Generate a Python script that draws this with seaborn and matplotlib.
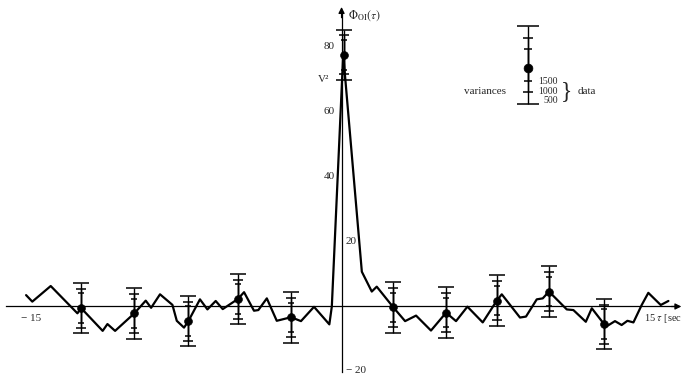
import matplotlib
matplotlib.use("Agg")
import matplotlib.pyplot as plt
import seaborn as sns
import numpy as np

# ---- data ----
tau = [-15.24, -14.94, -14.05, -12.76, -12.58, -11.54, -11.31, -10.94, -10.01,
       -9.46, -9.20, -8.77, -8.17, -7.96, -7.61, -7.40, -6.84, -6.48, -6.08,
       -5.74, -5.01, -4.71, -4.23, -4.02, -3.61, -3.13, -2.44, -1.96, -1.33,
       -0.59, -0.47, 0.08, 0.98, 1.46, 1.70, 2.50, 3.07, 3.60, 4.32, 5.05,
       5.53, 6.08, 6.82, 7.50, 7.74, 8.62, 8.91, 9.43, 9.72, 10.02, 10.88,
       11.20, 11.80, 12.09, 12.68, 12.78, 13.21, 13.53, 13.81, 14.10, 14.50,
       14.82, 15.42, 15.79]
phi = [3.5, 1.5, 6.3, -2.1, -0.5, -7.5, -5.4, -7.5, -2.1,
       1.8, -0.4, 3.75, 0.5, -4.4, -6.5, -4.5, 2.2, -0.9, 1.7,
       -0.8, 2.3, 4.4, -1.3, -1.1, 2.5, -4.4, -3.3, -4.5, -0.1,
       -5.5, 0.0, 77.5, 10.7, 4.6, 6.1, -0.25, -4.5, -2.8, -7.4, -1.9,
       -4.5, -0.05, -4.9, 1.8, 3.75, -3.4, -3.1, 2.2, 2.5, 4.6, -0.9,
       -1.1, -4.7, -0.55, -5.4, -6.2, -4.5, -5.7, -4.4, -4.9, 0.46,
       4.2, 0.46, 1.7]

marker_tau = [-12.58, -10.01, -7.40, -5.01, -2.44, 0.10, 2.50, 5.05, 7.50, 10.02, 12.68]
marker_phi = [-0.5, -2.1, -4.5, 2.3, -3.3, 77.4, -0.25, -1.9, 1.8, 4.6, -5.4]

# error-bar half lengths for 500, 1000, 1500 data
err_data = [7.8, 6.0, 4.5]
# legend (variances) bar
legend_tau = [9.0]
legend_phi = [74.3]
legend_marker_phi = [73.5]
err_legend = [12.0, 8.25, 4.9]
legend_counts = ["1500", "1000", "500"]

y_tick_left = [40, 60, 80]
y_tick_right = [-20, 20]
x_ticks = [-15, 15]

# ---- style ----
sns.set_theme(style="white")
plt.rcParams["font.family"] = ["Liberation Serif", "DejaVu Serif"]
plt.rcParams["mathtext.fontset"] = "stix"

fig = plt.figure(figsize=(6.86, 3.78), dpi=100)
ax = fig.add_axes([0, 0, 1, 1])
ax.set_xlim(-16.50, 16.64)
ax.set_ylim(-22.0, 94.3)
ax.set_facecolor("white")

# axes through the origin
for s in ["top", "right"]:
    ax.spines[s].set_visible(False)
ax.spines["left"].set_position(("data", 0))
ax.spines["bottom"].set_position(("data", 0))
ax.spines["left"].set_bounds(-20.3, 90)
ax.spines["bottom"].set_bounds(-16.2, 16.2)
for s in ["left", "bottom"]:
    ax.spines[s].set_color("black")
    ax.spines[s].set_linewidth(0.9)

ax.annotate("", xy=(16.55, 0), xytext=(15.8, 0),
            arrowprops=dict(arrowstyle="-|>", color="black", lw=0.9, mutation_scale=9))
ax.annotate("", xy=(0, 93.0), xytext=(0, 88),
            arrowprops=dict(arrowstyle="-|>", color="black", lw=0.9, mutation_scale=9))

ax.set_xticks(x_ticks)
ax.set_xticklabels([])
ax.set_yticks(y_tick_left)
ax.set_yticklabels([])
ax.set_yticks(y_tick_right, minor=True)
ax.tick_params(axis="x", which="major", direction="inout", length=6, width=0.9, color="black")
ax.tick_params(axis="y", which="major", direction="out", length=4, width=0.9, color="black")
ax.tick_params(axis="y", which="minor", direction="inout", length=8, width=0.9, color="black")
ax.set_xlabel("")
ax.set_ylabel("")

# ---- curve ----
sns.lineplot(x=tau, y=phi, sort=False, estimator=None, color="black",
             linewidth=1.6, ax=ax, zorder=3)

# ---- error bars ----
cap_data = [5.8, 3.3, 2.5]
for hl, cap in zip(err_data, cap_data):
    ax.errorbar(marker_tau, marker_phi, yerr=hl, fmt="none", ecolor="black",
                elinewidth=1.0, capsize=cap, capthick=1.1, zorder=4)
sns.scatterplot(x=marker_tau, y=marker_phi, s=32, color="black",
                edgecolor="black", ax=ax, zorder=5, legend=False)

# ---- legend bar ----
cap_leg = [8.0, 3.8, 3.0]
for hl, cap in zip(err_legend, cap_leg):
    ax.errorbar(legend_tau, legend_phi, yerr=hl, fmt="none", ecolor="black",
                elinewidth=1.0, capsize=cap, capthick=1.1, zorder=4)
sns.scatterplot(x=legend_tau, y=legend_marker_phi, s=40, color="black",
                edgecolor="black", ax=ax, zorder=5, legend=False)

fs = 8
ax.text(7.95, 66.3, "variances", ha="right", va="center", fontsize=fs)
for lbl, yv in zip(legend_counts, [69.2, 66.3, 63.4]):
    ax.text(10.45, yv, lbl, ha="right", va="center", fontsize=7)
ax.text(10.6, 66.0, "}", ha="left", va="center", fontsize=17,
        fontweight="light")
ax.text(11.4, 66.3, "data", ha="left", va="center", fontsize=fs)

# ---- axis labels ----
for v in y_tick_left:
    ax.text(-0.33, v, str(v), ha="right", va="center", fontsize=fs)
ax.text(0.2, 20, "20", ha="left", va="center", fontsize=fs)
ax.text(0.2, -19.6, "\u2212 20", ha="left", va="center", fontsize=fs)
ax.text(-0.58, 69.7, "V\u00b2", ha="right", va="center", fontsize=fs)
ax.text(0.33, 89.6, r"$\Phi_{\mathrm{OI}}(\tau)$", ha="left", va="center", fontsize=8.5)
ax.text(-15.0, -3.6, "\u2212 15", ha="center", va="center", fontsize=fs)
ax.text(14.6, -3.6, r"15 $\tau$ [sec", ha="left", va="center", fontsize=7.5)

fig.savefig("out.png", dpi=100, facecolor="white")
